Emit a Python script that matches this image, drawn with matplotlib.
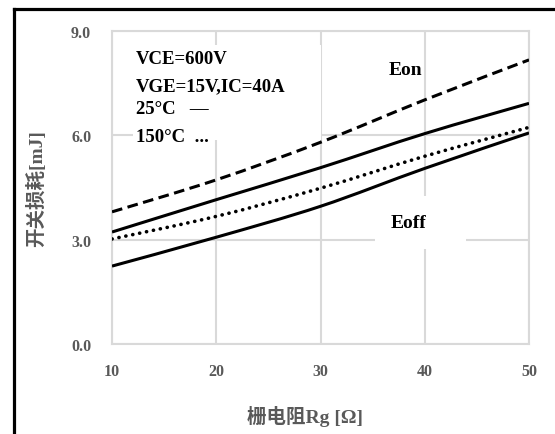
import matplotlib
matplotlib.use("Agg")
import matplotlib.pyplot as plt
import matplotlib.patches as patches
from matplotlib.lines import Line2D
from matplotlib.path import Path

# gate resistance [ohm]
rg = [10, 20, 30, 40, 50]
# switching losses [mJ]
eon_150 = [3.80, 4.72, 5.80, 7.02, 8.17]    # dashed
eon_25 = [3.22, 4.15, 5.07, 6.05, 6.92]     # solid, upper
eoff_150 = [3.02, 3.67, 4.48, 5.40, 6.23]   # dotted
eoff_25 = [2.24, 3.07, 3.96, 5.05, 6.07]    # solid, lower

xticks = [10, 20, 30, 40, 50]
yticks = [0, 3, 6, 9]
ytick_labels = ["0.0", "3.0", "6.0", "9.0"]

notes = ["VCE=600V", "VGE=15V,IC=40A", "25°C   \u2014", "150°C  ..."]

serif = ["Liberation Serif", "Noto Sans CJK SC", "DejaVu Sans"]
grey = "#595959"
gridc = "#d9d9d9"


def smooth_path(xs, ys):
    # Excel style smoothed line: bezier segments through every data point
    pts = list(zip(xs, ys))
    verts = [pts[0]]
    codes = [Path.MOVETO]
    n = len(pts)
    for i in range(n - 1):
        p0 = pts[max(i - 1, 0)]
        p1 = pts[i]
        p2 = pts[i + 1]
        p3 = pts[min(i + 2, n - 1)]
        c1 = (p1[0] + (p2[0] - p0[0]) / 6, p1[1] + (p2[1] - p0[1]) / 6)
        c2 = (p2[0] - (p3[0] - p1[0]) / 6, p2[1] - (p3[1] - p1[1]) / 6)
        verts += [c1, c2, p2]
        codes += [Path.CURVE4] * 3
    return Path(verts, codes)


fig = plt.figure(figsize=(5.55, 4.35), dpi=100)
ax = fig.add_axes([0.2018, 0.2069, 0.7514, 0.7195])

styles = [
    (eon_150, dict(ls=(0, (3.5, 1.8)))),
    (eon_25, dict(ls="-")),
    (eoff_150, dict(ls=(0, (0.05, 1.9)), capstyle="round", lw=2.6)),
    (eoff_25, dict(ls="-")),
]
for ys, st in styles:
    lw = st.pop("lw", 2.2)
    patch = patches.PathPatch(smooth_path(rg, ys), facecolor="none",
                              edgecolor="black", lw=lw, zorder=3, **st)
    ax.add_patch(patch)

ax.set_xlim(10, 50)
ax.set_ylim(0, 9)
ax.set_xticks(xticks)
ax.set_yticks(yticks)
ax.set_yticklabels(ytick_labels)
ax.grid(True, color=gridc, lw=1.5, zorder=0)
ax.set_axisbelow(True)
for s in ax.spines.values():
    s.set_color(gridc)
    s.set_linewidth(1.5)
    s.set_zorder(0.5)
ax.tick_params(length=0, labelsize=11.5, labelcolor=grey)
ax.tick_params(axis="y", pad=15)
ax.tick_params(axis="x", pad=14)
for lab in ax.get_xticklabels() + ax.get_yticklabels():
    lab.set_family(serif)
    lab.set_fontweight("bold")

ax.set_xlabel("栅电阻Rg [Ω]", family=serif, fontweight="bold", fontsize=14, color=grey)
ax.xaxis.set_label_coords(0.463, -0.195)
ax.set_ylabel("开关损耗[mJ]", family=serif, fontweight="bold", fontsize=14, color=grey)
ax.yaxis.set_label_coords(-0.158, 0.5)

# white text boxes hiding the grid, as in the reference
ax.add_patch(patches.Rectangle((12.0, 5.87), 18.05, 2.73, facecolor="white",
                               edgecolor="none", zorder=1))
ax.add_patch(patches.Rectangle((35.2, 2.73), 8.76, 1.53, facecolor="white",
                               edgecolor="none", zorder=1))

note_y = [8.22, 7.42, 6.76, 5.98]
for txt, y in zip(notes, note_y):
    ax.text(12.3, y, txt, family=serif, fontweight="bold", fontsize=13.5,
            va="center", ha="left", zorder=4)

ax.text(38.1, 7.88, "Eon", family=serif, fontweight="bold", fontsize=14,
        va="center", ha="center", zorder=4)
ax.text(38.4, 3.48, "Eoff", family=serif, fontweight="bold", fontsize=14,
        va="center", ha="center", zorder=4)

# outer black frame, cut off at the right and bottom
W, H = 555, 435
fig.add_artist(Line2D([13.5 / W, 13.5 / W], [0, 1 - 10 / H], color="black",
                      lw=2.3, transform=fig.transFigure))
fig.add_artist(Line2D([13.5 / W, 1], [1 - 10 / H, 1 - 10 / H], color="black",
                      lw=2.3, transform=fig.transFigure, solid_capstyle="projecting"))

fig.savefig("out.png", dpi=100)
